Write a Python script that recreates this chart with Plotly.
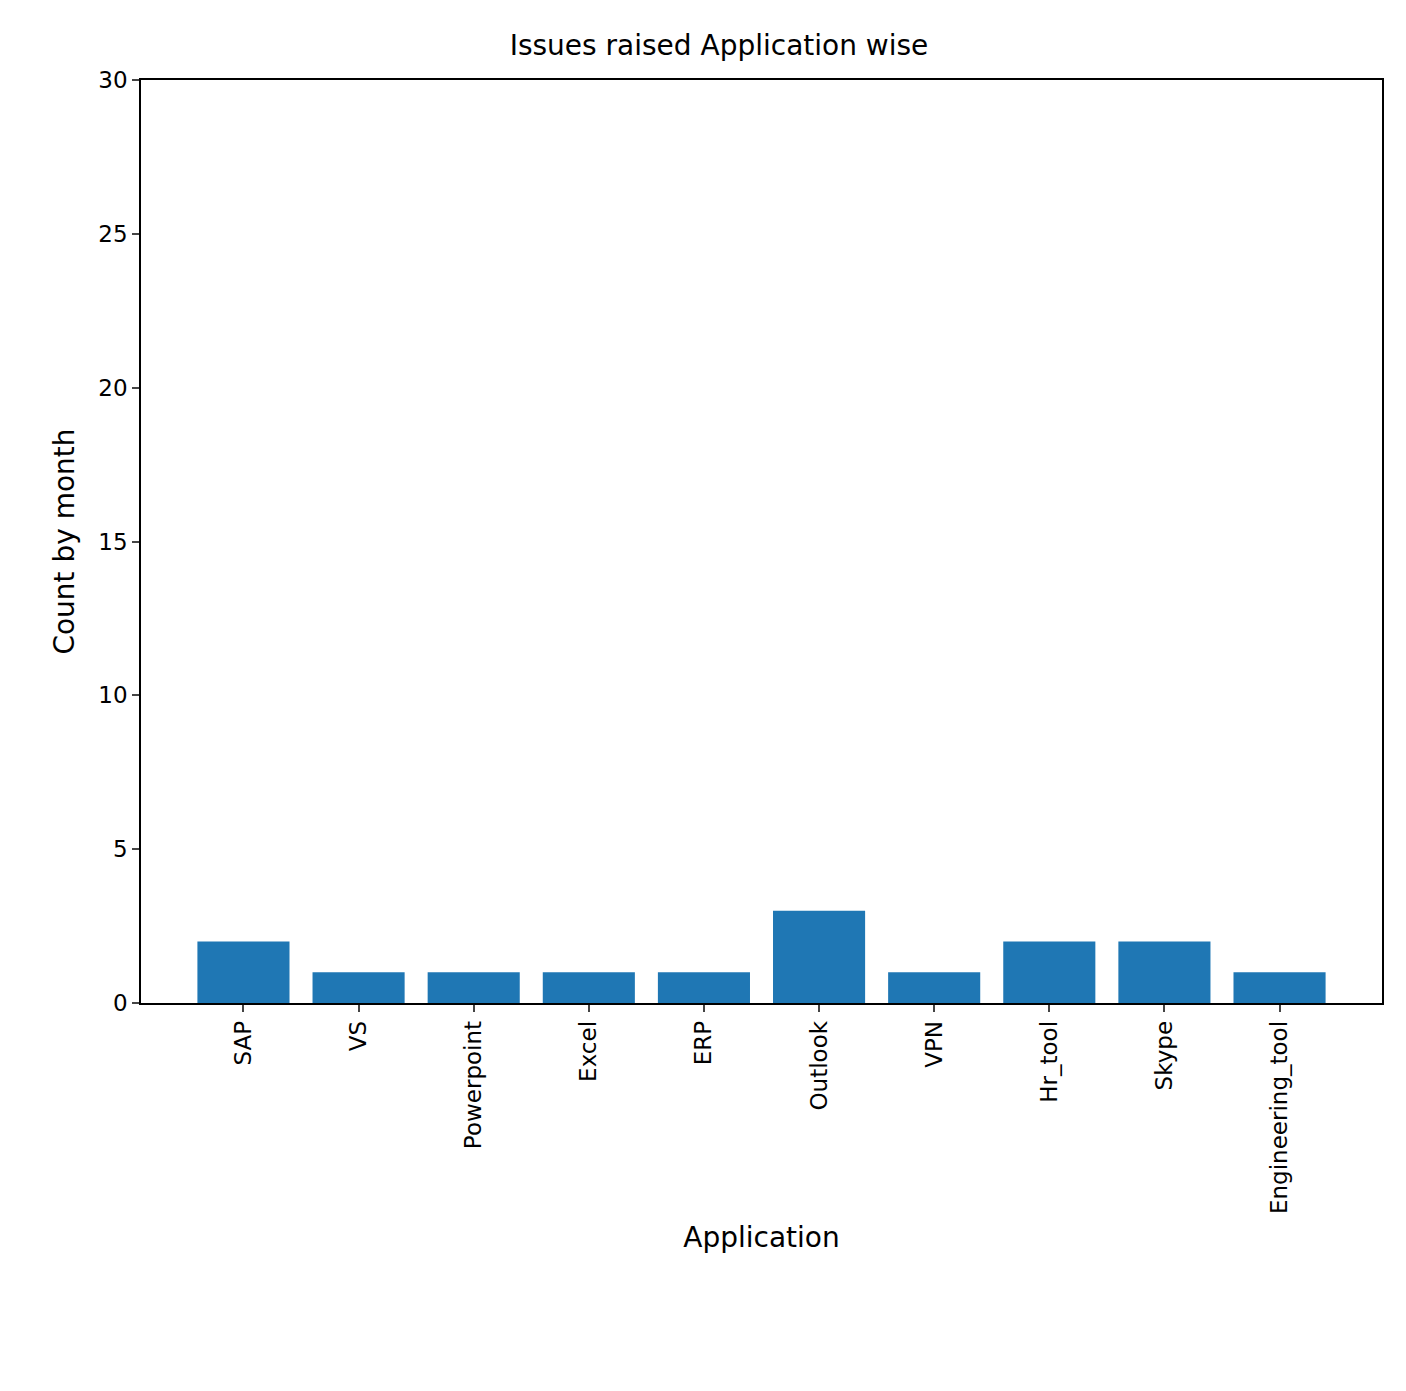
import plotly.graph_objects as go

apps = ["SAP", "VS", "Powerpoint", "Excel", "ERP", "Outlook", "VPN", "Hr_tool", "Skype", "Engineering_tool"]
counts = [2, 1, 1, 1, 1, 3, 1, 2, 2, 1]
yticks = [0, 5, 10, 15, 20, 25, 30]

fig = go.Figure(go.Bar(x=list(range(len(apps))), y=counts, width=0.8, marker_color="#1f77b4", marker_line_width=0))
fig.update_layout(
    width=1406, height=1391,
    margin=dict(l=133, r=32, t=72, b=396),
    plot_bgcolor="white", paper_bgcolor="white",
    font=dict(family="DejaVu Sans", size=23, color="black"),
    title=dict(text="Issues raised Application wise", x=0.5 + 8/1406, xanchor="center", y=1 - 37/1391, yanchor="middle", font=dict(size=28)),
    showlegend=False,
)
fig.update_xaxes(range=[-0.89, 9.89], tickvals=list(range(len(apps))), ticktext=apps, tickangle=-90,
                 showline=True, linecolor="black", linewidth=1.5, mirror=True, showgrid=False,
                 ticks="outside", ticklen=7, tickwidth=1.5, title=dict(text="Application", standoff=14), zeroline=False)
fig.update_yaxes(range=[0, 30], tickvals=yticks, showline=True, linecolor="black", linewidth=1.5, mirror=True,
                 showgrid=False, ticks="outside", ticklen=7, tickwidth=1.5, title=dict(text="Count by month", standoff=16), zeroline=False)
fig.write_html("out.html")
